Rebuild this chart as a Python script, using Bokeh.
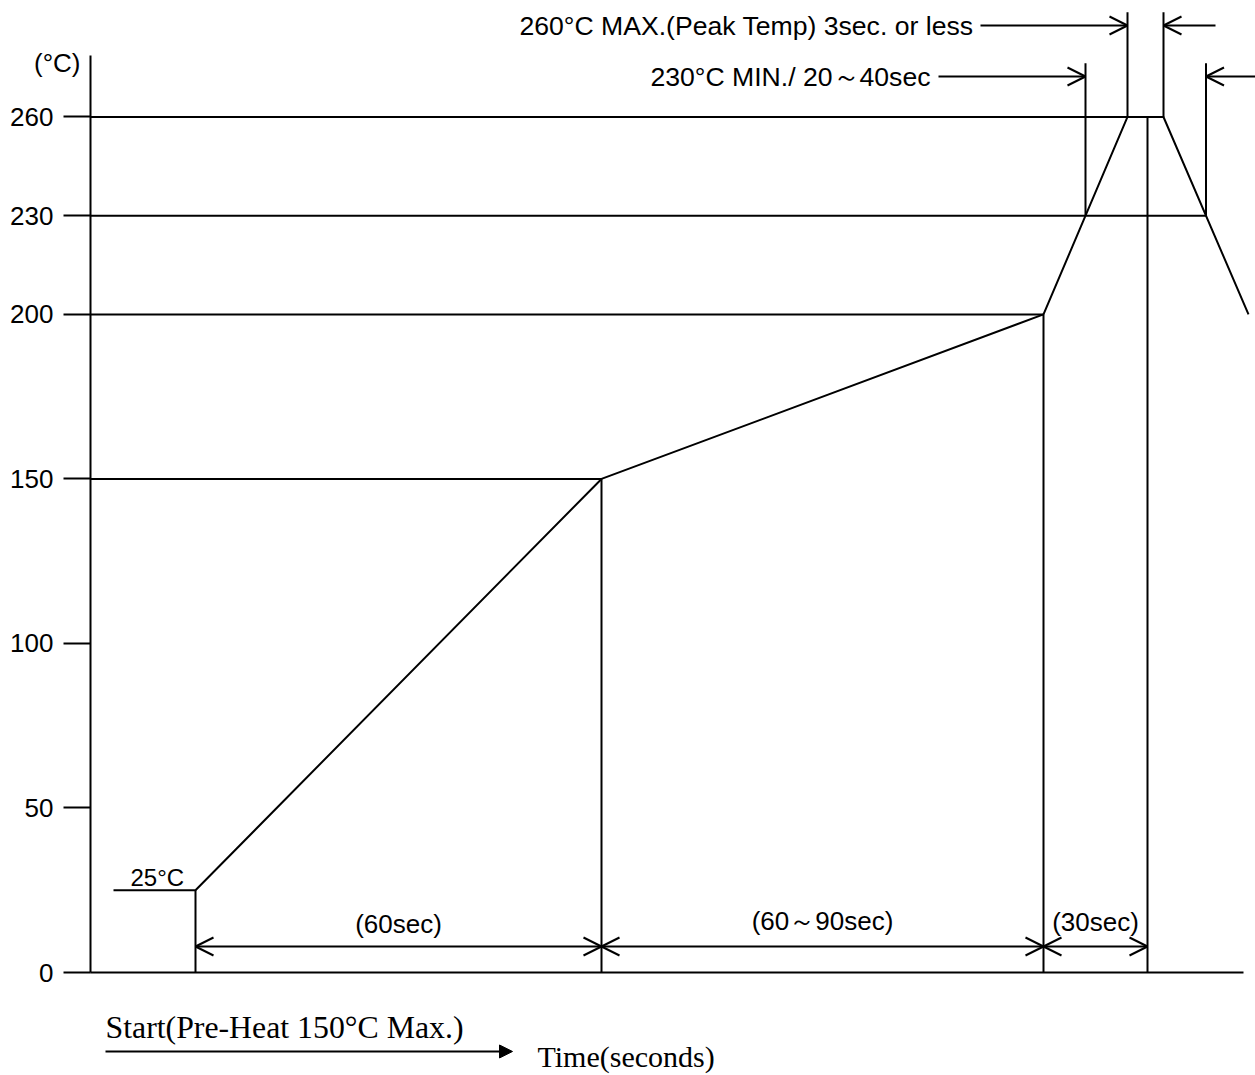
import numpy as np
from bokeh.plotting import figure
from bokeh.models import (Range1d, FixedTicker, Arrow, OpenHead, NormalHead)
from bokeh.core.properties import value
from bokeh.embed import file_html
from bokeh.resources import INLINE

# ---------------- data ----------------
temp_ticks = [0, 50, 100, 150, 200, 230, 260]
# reflow profile: schematic time position (not to scale) and temperature (°C)
prof_t = [23, 105, 511, 953, 1037, 1073, 1158]
prof_T = [25, 25, 150, 200, 260, 260, 200]
peak_mark_t = 1057                      # end of the 30 sec zone
zone_bounds = [105, 511, 953, 1057]     # preheat start, soak start, reflow start, end
zone_labels = ["(60sec)", "(60～90sec)", "(30sec)"]
start_temp_label = "25°C"
peak_text = "260°C MAX.(Peak Temp) 3sec. or less"
liq_text = "230°C MIN./ 20～40sec"
start_text = "Start(Pre-Heat 150°C Max.)"
time_text = "Time(seconds)"
unit_text = "(°C)"

# ---------------- layout / style ----------------
SANS = value("Liberation Sans")
SERIF = value("Liberation Serif")
FS = "26px"
LW = 2
W, H = 1255, 1075

p = figure(width=W, height=H, output_backend="svg", toolbar_location=None,
           x_range=Range1d(-90, 1165), y_range=Range1d(-31.3, 295.4),
           x_axis_location=None, min_border_left=0, min_border_right=0,
           min_border_top=0, min_border_bottom=0)
p.outline_line_color = None
p.xgrid.visible = False
p.ygrid.visible = False
p.background_fill_color = "white"
p.border_fill_color = "white"

ax = p.yaxis[0]
ax.fixed_location = 0
ax.ticker = FixedTicker(ticks=temp_ticks)
ax.bounds = (0, 278.7)
ax.axis_line_width = LW
ax.axis_line_color = "black"
ax.major_tick_line_width = LW
ax.major_tick_line_color = "black"
ax.major_tick_out = 27
ax.major_tick_in = 0
ax.minor_tick_line_color = None
ax.major_label_standoff = 10
ax.major_label_text_font = "Liberation Sans"
ax.major_label_text_font_size = FS
ax.major_label_text_color = "black"

# derived crossing points at 230 °C
t_up = float(np.interp(230, [prof_T[3], prof_T[4]], [prof_t[3], prof_t[4]]))
t_down = float(np.interp(230, [prof_T[6], prof_T[5]], [prof_t[6], prof_t[5]]))

# horizontal guide lines (level -> end of line)
guide_levels = [260, 230, 200, 150, 0]
guide_ends = [prof_t[4], t_down, prof_t[3], prof_t[2], 1153]
p.segment(x0=[0] * len(guide_levels), y0=guide_levels, x1=guide_ends, y1=guide_levels,
          line_color="black", line_width=LW)

# profile line
p.line(prof_t, prof_T, line_color="black", line_width=LW)

# vertical drops to the base line
drop_x = [prof_t[1], prof_t[2], prof_t[3], peak_mark_t]
drop_T = [prof_T[1], prof_T[2], prof_T[3], prof_T[4]]
p.segment(x0=drop_x, y0=drop_T, x1=drop_x, y1=[0] * 4, line_color="black", line_width=LW)

# top extension lines
ROW1, ROW2 = 287.8, 272.3
EXT1, EXT2 = 291.8, 276.3
ext_x = [prof_t[4], prof_t[5], t_up, t_down]
ext_y0 = [260, 260, 230, 230]
ext_y1 = [EXT1, EXT1, EXT2, EXT2]
p.segment(x0=ext_x, y0=ext_y0, x1=ext_x, y1=ext_y1, line_color="black", line_width=LW)

def head():
    return OpenHead(size=18, line_width=LW, line_color="black")

for xs, xe, yy in [(890, prof_t[4], ROW1), (1125, prof_t[5], ROW1),
                   (848, t_up, ROW2), (1170, t_down, ROW2)]:
    p.add_layout(Arrow(end=head(), x_start=xs, y_start=yy, x_end=xe, y_end=yy,
                       line_width=LW, line_color="black"))

p.text(x=[883, 840], y=[ROW1, ROW2], text=[peak_text, liq_text], text_font=SANS,
       text_font_size="26.6px", text_align="right", text_baseline="middle",
       text_color="black")

# bottom zone dimension arrows
DIM_Y = 7.9
for a, b in zip(zone_bounds[:-1], zone_bounds[1:]):
    p.add_layout(Arrow(start=head(), end=head(), x_start=a, y_start=DIM_Y, x_end=b, y_end=DIM_Y,
                       line_width=LW, line_color="black"))
mids = [(a + b) / 2 for a, b in zip(zone_bounds[:-1], zone_bounds[1:])]
p.text(x=mids, y=[14.6, 15.8, 15.2], text=zone_labels, text_font=SANS, text_font_size=FS,
       text_align="center", text_baseline="alphabetic", text_color="black")

# 25°C label
p.text(x=[40], y=[28.9], text=[start_temp_label], text_font=SANS, text_font_size="24px",
       text_align="left", text_baseline="alphabetic", text_color="black")

# unit label
p.text(x=[-10], y=[276.3], text=[unit_text], text_font=SANS, text_font_size=FS,
       text_align="right", text_baseline="middle", text_color="black")

# bottom texts and time arrow
p.text(x=[15], y=[-16.7], text=[start_text], text_font=SERIF, text_font_size="31.8px",
       text_align="left", text_baseline="alphabetic", text_color="black")
p.add_layout(Arrow(end=NormalHead(size=13, fill_color="black", line_color="black"),
                   x_start=15, y_start=-24.0, x_end=422, y_end=-24.0,
                   line_width=LW, line_color="black"))
p.text(x=[447], y=[-25.6], text=[time_text], text_font=SERIF, text_font_size="30px",
       text_align="left", text_baseline="alphabetic", text_color="black")

open("out.html", "w").write(file_html(p, INLINE))
